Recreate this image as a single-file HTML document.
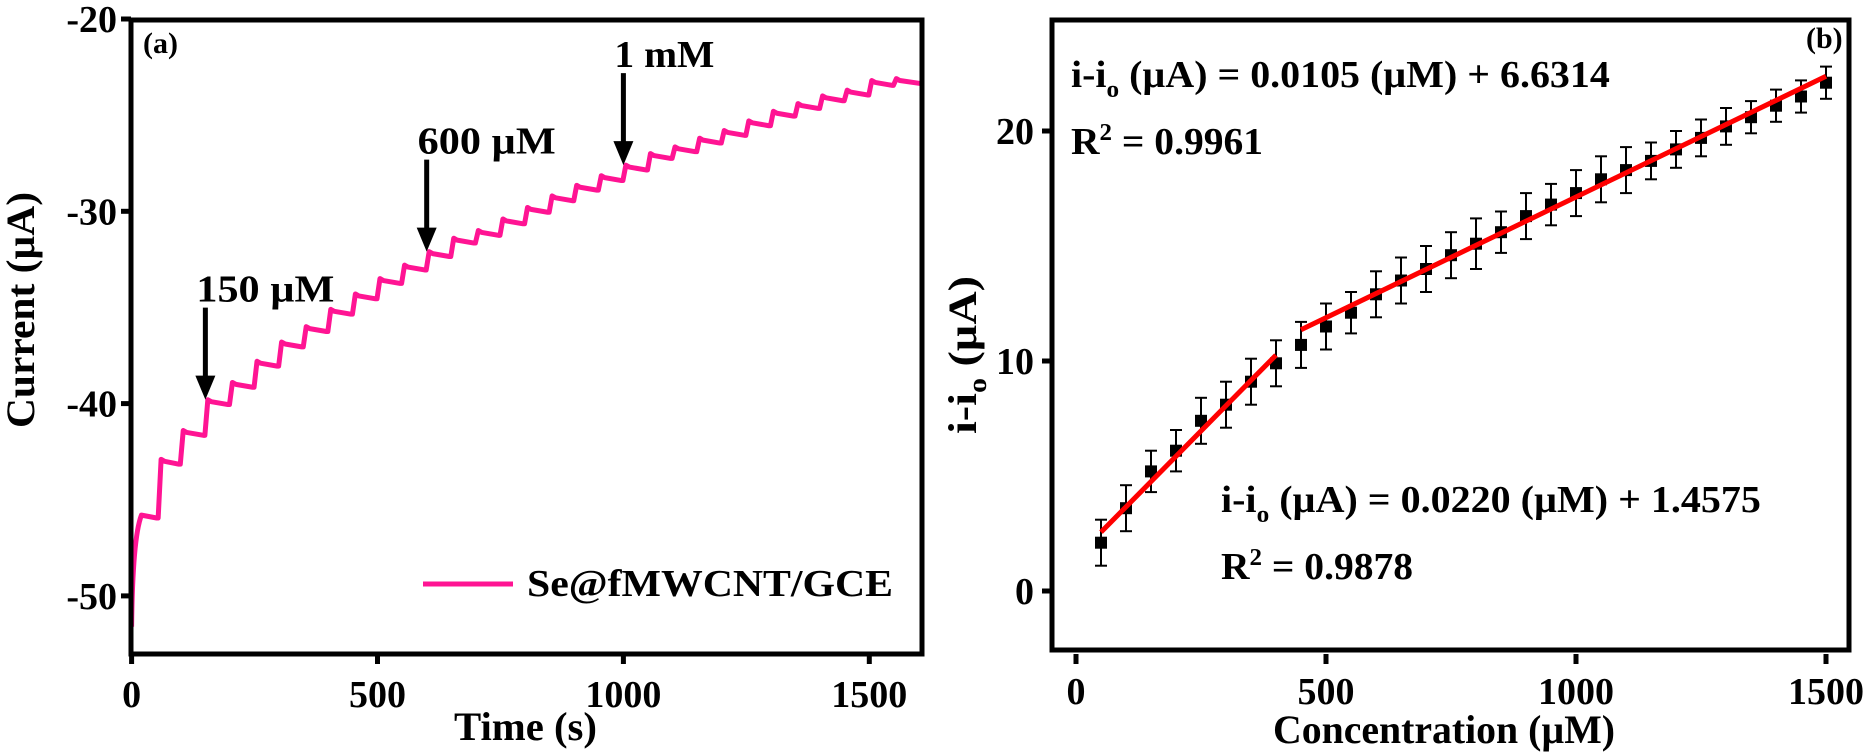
<!DOCTYPE html>
<html><head><meta charset="utf-8">
<style>
html,body{margin:0;padding:0;background:#fff;}
svg{display:block;}
text{font-family:"Liberation Serif",serif;font-weight:bold;fill:#000;}
</style></head>
<body>
<svg id="chart" width="1871" height="754" viewBox="0 0 1871 754">
<g id="pa"></g>
<g id="pb"></g>
</svg>
<script>
// ---- Panel (a) data ----
const stepTimes = [0,20,55,100,150,200,250,300,350,400,450,500,550,600,650,700,750,800,850,900,950,1000,1050,1100,1150,1200,1250,1300,1350,1400,1450,1500,1550];
const stepLevels = [-51.6,-45.8,-43.0,-41.5,-39.9,-39.0,-37.9,-36.9,-36.1,-35.2,-34.4,-33.6,-32.9,-32.2,-31.5,-31.1,-30.5,-29.9,-29.3,-28.75,-28.25,-27.7,-27.1,-26.75,-26.3,-25.9,-25.4,-24.9,-24.5,-24.1,-23.8,-23.3,-23.2];
const aYTicks = [-20,-30,-40,-50];
const aXTicks = [0,500,1000,1500];
const annTimes = [150,600,1000];
const annLabels = ["150 µM","600 µM","1 mM"];
// ---- Panel (b) data ----
const conc = [50,100,150,200,250,300,350,400,450,500,550,600,650,700,750,800,850,900,950,1000,1050,1100,1150,1200,1250,1300,1350,1400,1450,1500];
const resp = [2.1,3.6,5.2,6.1,7.4,8.1,9.1,9.9,10.7,11.5,12.1,12.9,13.5,14.0,14.6,15.1,15.6,16.3,16.8,17.3,17.9,18.3,18.7,19.2,19.7,20.2,20.6,21.1,21.5,22.1];
const errs = [1.0,1.0,0.9,0.9,1.0,1.0,1.0,1.0,1.0,1.0,0.9,1.0,1.0,1.0,1.0,1.1,0.9,1.0,0.9,1.0,1.0,1.0,0.8,0.8,0.8,0.8,0.7,0.7,0.7,0.7];
const fit1 = {slope:0.0220, icpt:1.4575, x0:50, x1:400};
const fit2 = {slope:0.0105, icpt:6.6314, x0:450, x1:1500};
const bYTicks = [0,10,20];
const bXTicks = [0,500,1000,1500];

const NS="http://www.w3.org/2000/svg";
function mk(parent,tag,attrs){const e=document.createElementNS(NS,tag);for(const k in attrs)e.setAttribute(k,attrs[k]);parent.appendChild(e);return e;}

// ---------- Panel a ----------
const pa=document.getElementById('pa');
const A={l:131,r:922,t:20,b:654};
const ax=t=>131.6+(t-0)*0.4918;
const ay=v=>19+(-20-v)*19.23;
let d="M"+ax(0)+","+ay(stepLevels[0]);
for(let i=1;i<stepTimes.length;i++){
  const t=stepTimes[i], L=stepLevels[i], prev=stepLevels[i-1];
  const tEnd = i+1<stepTimes.length?stepTimes[i+1]:1607;
  if(i===1){ d+=" Q"+ax(2)+","+ay(-47)+" "+ax(t)+","+ay(L); d+=" L"+ax(tEnd-4)+","+ay(L-0.15); continue;}
  d+=" L"+ax(t-1)+","+ay(prev-0.15);
  d+=" L"+ax(t+5)+","+ay(L+0.1);
  d+=" L"+ax(t+12)+","+ay(L);
  d+=" L"+ax(tEnd-4)+","+ay(L-0.15);
}
const curve=mk(pa,'path',{d:d,fill:'none',stroke:'#ff1493','stroke-width':5,'stroke-linejoin':'round'});


const fa=mk(pa,'rect',{x:A.l,y:A.t,width:A.r-A.l,height:A.b-A.t,fill:'none',stroke:'#000','stroke-width':5});


aYTicks.forEach(v=>{
  const y=ay(v);
  mk(pa,'line',{x1:A.l-10,x2:A.l,y1:y,y2:y,stroke:'#000','stroke-width':5});
  const tx=mk(pa,'text',{x:A.l-14,y:y+13,'text-anchor':'end','font-size':38});
  tx.textContent=v;
  
  
});
aXTicks.forEach(v=>{
  const x=ax(v);
  mk(pa,'line',{x1:x,x2:x,y1:A.b,y2:A.b+10,stroke:'#000','stroke-width':5});
  const tx=mk(pa,'text',{x:x,y:707,'text-anchor':'middle','font-size':38});
  tx.textContent=v;
  
  
});
annTimes.forEach((t,i)=>{
  const x=ax(t);
  const yEnd=ay(stepLevels[stepTimes.indexOf(t)])-2;
  mk(pa,'line',{x1:x,x2:x,y1:yEnd-92,y2:yEnd-20,stroke:'#000','stroke-width':5});
  const ar=mk(pa,'polygon',{points:(x-10)+","+(yEnd-24)+" "+(x+10)+","+(yEnd-24)+" "+x+","+yEnd,fill:'#000'});
  
  
  const tx=mk(pa,'text',{x:x-9,y:yEnd-98,'font-size':38,textLength:(i===2?100:138),lengthAdjust:'spacingAndGlyphs'});
  tx.textContent=annLabels[i];
  
  
});
</script>
<script>
(function(){
const pb=document.getElementById('pb');
const B={l:1052,r:1849,t:20,b:650};
const bx=c=>1076+c*0.5;
const by=v=>591-v*23;
conc.forEach((c,i)=>{
  const x=bx(c), y=by(resp[i]), e=errs[i]*23;
  const g=mk(pb,'g',{});
  
  
  mk(g,'line',{x1:x,x2:x,y1:y-e,y2:y+e,stroke:'#000','stroke-width':2});
  mk(g,'line',{x1:x-6,x2:x+6,y1:y-e,y2:y-e,stroke:'#000','stroke-width':2});
  mk(g,'line',{x1:x-6,x2:x+6,y1:y+e,y2:y+e,stroke:'#000','stroke-width':2});
  mk(g,'rect',{x:x-6,y:y-6,width:12,height:12,fill:'#000'});
});
[fit1,fit2].forEach((f,i)=>{
  const l=mk(pb,'line',{x1:bx(f.x0),y1:by(f.slope*f.x0+f.icpt),x2:bx(f.x1),y2:by(f.slope*f.x1+f.icpt),stroke:'#ff0000','stroke-width':5});
  
  
});
const fb=mk(pb,'rect',{x:B.l,y:B.t,width:B.r-B.l,height:B.b-B.t,fill:'none',stroke:'#000','stroke-width':5});


bYTicks.forEach(v=>{
  const y=by(v);
  mk(pb,'line',{x1:B.l-10,x2:B.l,y1:y,y2:y,stroke:'#000','stroke-width':5});
  const tx=mk(pb,'text',{x:B.l-18,y:y+13,'text-anchor':'end','font-size':38});
  tx.textContent=v;
  
  
});
bXTicks.forEach(v=>{
  const x=bx(v);
  mk(pb,'line',{x1:x,x2:x,y1:B.b+4,y2:B.b+14,stroke:'#000','stroke-width':5});
  const tx=mk(pb,'text',{x:x,y:704,'text-anchor':'middle','font-size':38});
  tx.textContent=v;
  
  
});
})();
</script>
<script>
(function(){
const s=document.getElementById('chart');
const T=[
 ['panel-a-label',143,53,30,'(a)',null],
 ['panel-b-label',1806,48,30,'(b)',null],
 ['x-axis-title-a',454,740,40,'Time (s)',143],
 ['x-axis-title-b',1273,743,40,'Concentration (µM)',342],
 ['legend-label',527,596,38,'Se@fMWCNT/GCE',366],
 ['r2-fit-2',1071,154,38,'R<tspan font-size="24" dy="-14">2</tspan><tspan dy="14"> = 0.9961</tspan>',192],
 ['r2-fit-1',1221,579,38,'R<tspan font-size="24" dy="-14">2</tspan><tspan dy="14"> = 0.9878</tspan>',192]
];
T.forEach(a=>{
  const e=document.createElementNS("http://www.w3.org/2000/svg",'text');
  e.setAttribute('x',a[1]);e.setAttribute('y',a[2]);e.setAttribute('font-size',a[3]);
  if(a[5]){e.setAttribute('textLength',a[5]);e.setAttribute('lengthAdjust','spacingAndGlyphs');}
  e.innerHTML=a[4];
  
  
  s.appendChild(e);
});
const ll=document.createElementNS("http://www.w3.org/2000/svg",'line');
ll.setAttribute('x1',423);ll.setAttribute('x2',513);ll.setAttribute('y1',584);ll.setAttribute('y2',584);
ll.setAttribute('stroke','#ff1493');ll.setAttribute('stroke-width',5);


s.appendChild(ll);
})();
</script>
<script>
(function(){
const s=document.getElementById('chart');
function eq(name,x,y,w,c){
  const e=document.createElementNS("http://www.w3.org/2000/svg",'text');
  e.setAttribute('x',x);e.setAttribute('y',y);e.setAttribute('font-size',38);
  e.innerHTML='i-i<tspan font-size="24" dy="10">o</tspan><tspan dy="-10"> (µA) = '+c+'</tspan>';
  
  
  s.appendChild(e);
  const bb=e.getBBox();
  e.setAttribute('transform','translate('+x+',0) scale('+(w/bb.width)+',1) translate('+(-x)+',0)');
}
eq('equation-fit-2',1071,87,539,'0.0105 (µM) + 6.6314');
eq('equation-fit-1',1221,512,540,'0.0220 (µM) + 1.4575');
function yt(name,cx,cy,len,html){
  const e=document.createElementNS("http://www.w3.org/2000/svg",'text');
  e.setAttribute('x',0);e.setAttribute('y',0);e.setAttribute('font-size',40);
  e.setAttribute('text-anchor','middle');
  e.setAttribute('textLength',len);e.setAttribute('lengthAdjust','spacingAndGlyphs');
  e.setAttribute('transform','translate('+cx+','+cy+') rotate(-90)');
  e.innerHTML=html;
  
  
  s.appendChild(e);
}
yt('y-axis-title-a',34,310,236,'Current (µA)');
yt('y-axis-title-b',976,355,158,'i-i<tspan font-size="26" dy="10">o</tspan><tspan dy="-10">  (µA)</tspan>');
})();
</script>
</body></html>
